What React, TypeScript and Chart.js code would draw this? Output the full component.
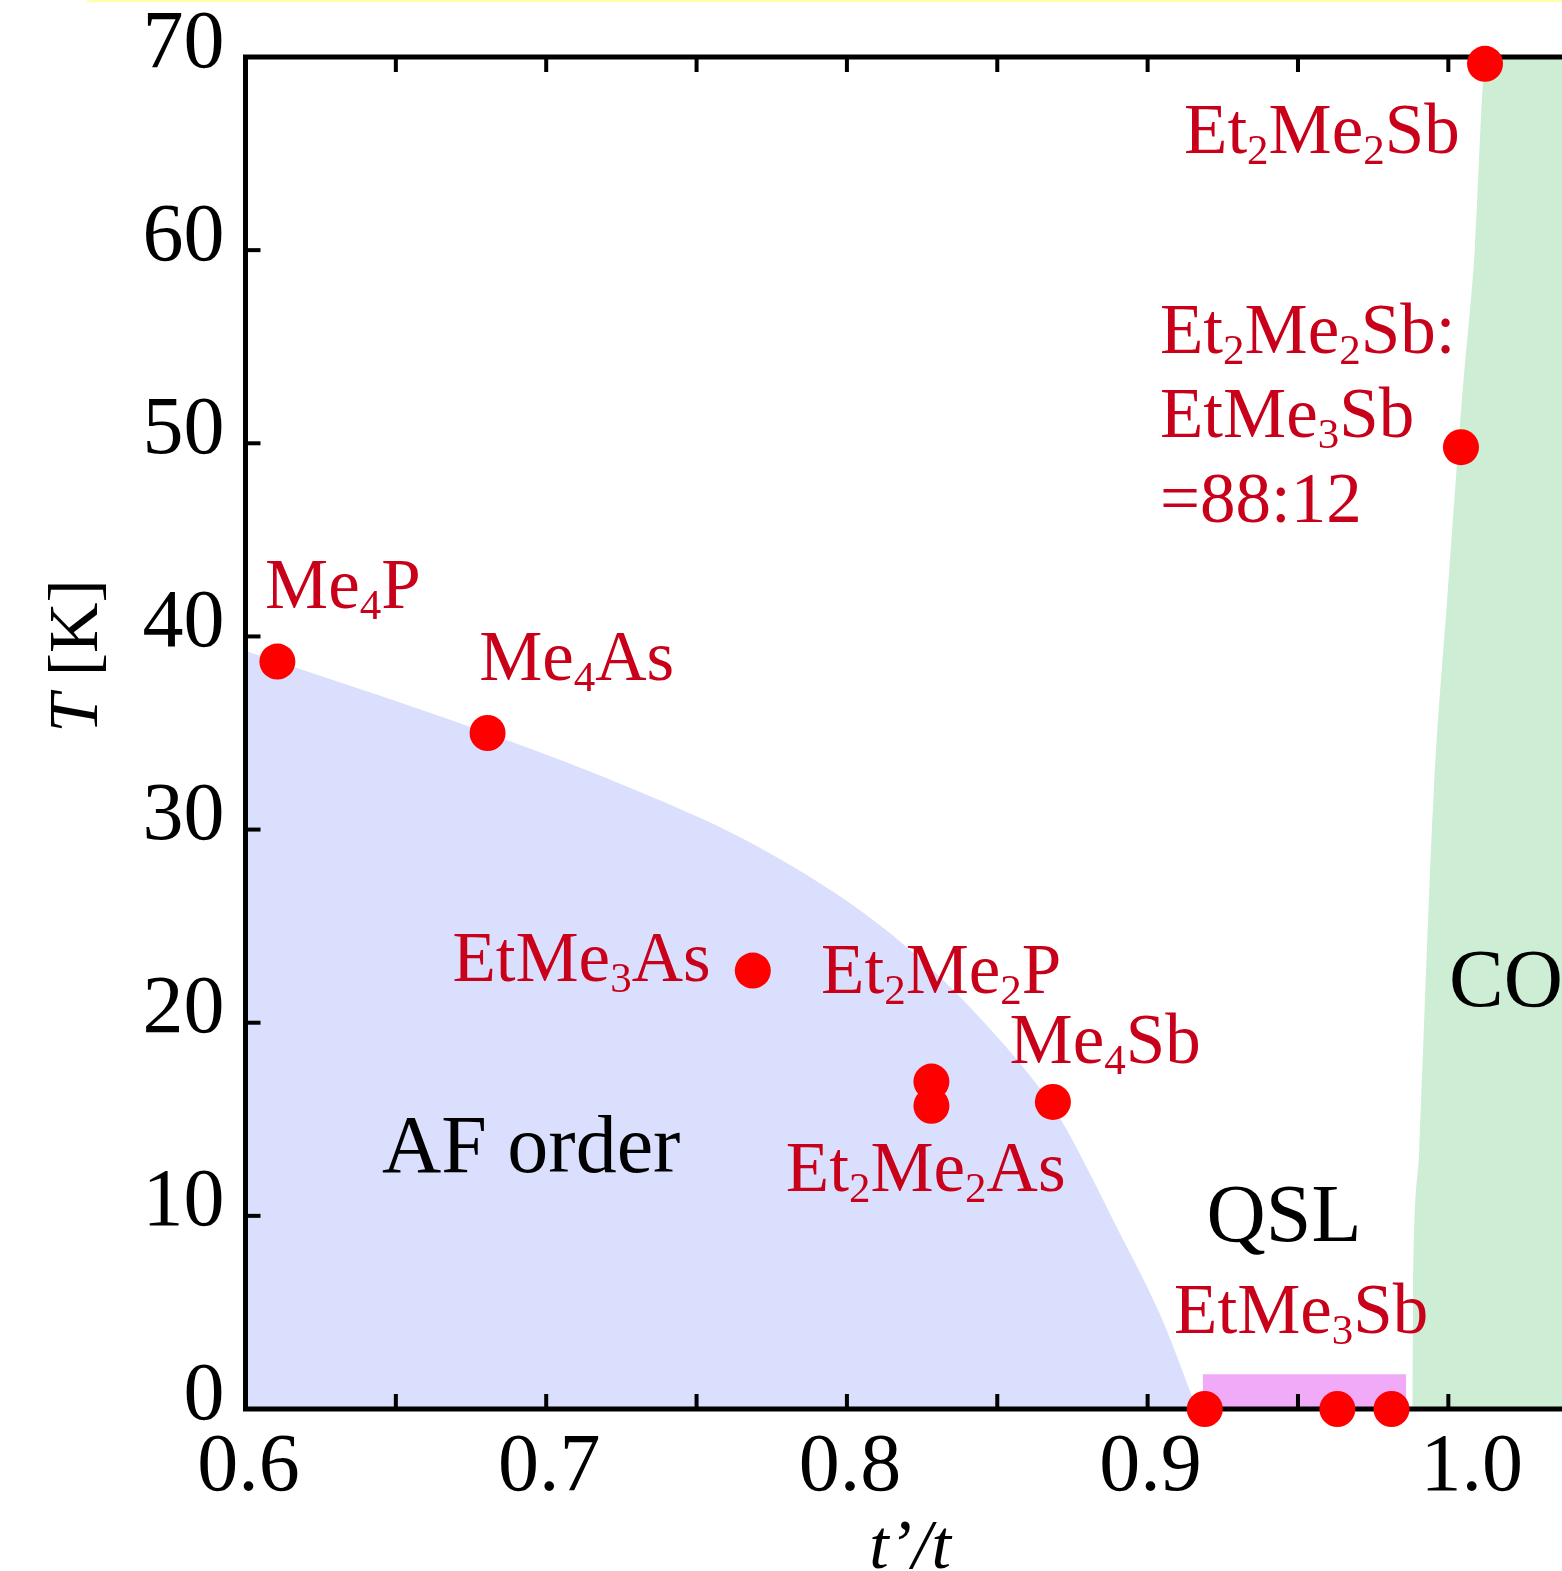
import React, { useEffect, useRef } from 'react';
import { Chart, registerables } from 'chart.js';

Chart.register(...registerables);

const W = 1562;
const H = 1571;
const SERIF = '"Liberation Serif", "Times New Roman", serif';
const RED_TEXT = '#c8001a';
const POINT_RED = '#ff0000';
const AF_COLOR = '#d9dffc';
const QSL_COLOR = '#f0aaf8';
const CO_COLOR = '#cdeed5';

// ---- data ----
const compoundNames = ['Me4P', 'Me4As', 'EtMe3As', 'Et2Me2P', 'Et2Me2As', 'Me4Sb', 'EtMe3Sb', 'EtMe3Sb', 'EtMe3Sb', 'Et2Me2Sb:EtMe3Sb=88:12', 'Et2Me2Sb'];
const tRatio = [0.6106, 0.6805, 0.7687, 0.8281, 0.8281, 0.8685, 0.919, 0.9631, 0.9811, 1.0042, 1.0122];
const transitionT = [38.7, 35.0, 22.7, 16.95, 15.7, 15.9, 0, 0, 0, 49.8, 69.65];

const afBoundaryX = [0.6, 0.6106, 0.6805, 0.7312, 0.7645, 0.8, 0.82, 0.8366, 0.8642, 0.8711, 0.8901, 0.9041, 0.9164];
const afBoundaryT = [39.25, 38.7, 35.0, 31.95, 29.6, 26.3, 23.9, 21.5, 16.6, 15.0, 9.3, 4.9, 0];

const qslX = [0.9183, 0.9183, 0.986, 0.986];
const qslT = [0, 1.8, 1.8, 0];

const coBoundaryX = [0.988, 0.9883, 0.9903, 0.995, 0.9996, 1.0045, 1.0088, 1.0125, 1.06];
const coBoundaryT = [0, 5.64, 13.4, 31.53, 41.9, 52.24, 60.0, 70, 70];

const xTickValues = [0.6, 0.7, 0.8, 0.9, 1.0];
const xTickLabels = ['0.6', '0.7', '0.8', '0.9', '\u20021.0'];
const yTickValues = [0, 10, 20, 30, 40, 50, 60, 70];
const yTickLabels = ['0', '10', '20', '30', '40', '50', '60', '70'];

const X_MIN = 0.6;
const X_MAX = 1.0378;
const Y_MIN = 0;
const Y_MAX = 70;

// ---- annotation layout (anchored in data coordinates: left edge, baseline) ----
const redLabels = [
  { text: 'Me_4P', x: 0.6065, t: 41.47 },
  { text: 'Me_4As', x: 0.6777, t: 37.74 },
  { text: 'EtMe_3As', x: 0.6688, t: 22.16 },
  { text: 'Et_2Me_2P', x: 0.7914, t: 21.54 },
  { text: 'Me_4Sb', x: 0.8541, t: 17.91 },
  { text: 'Et_2Me_2As', x: 0.7797, t: 11.29 },
  { text: 'EtMe_3Sb', x: 0.9088, t: 3.93 },
  { text: 'Et_2Me_2Sb', x: 0.9121, t: 65.03 },
  { text: 'Et_2Me_2Sb:', x: 0.9041, t: 54.68 },
  { text: 'EtMe_3Sb', x: 0.9041, t: 50.33 },
  { text: '=88:12', x: 0.9041, t: 45.93 },
];
const phaseLabels = [
  { text: 'AF order', x: 0.6454, t: 12.27 },
  { text: 'QSL', x: 0.9196, t: 8.7 },
  { text: 'CO', x: 1.0002, t: 20.87 },
];

const RED_SIZE = 71;
const PHASE_SIZE = 82;
const TICK_SIZE = 82;
const TITLE_SIZE = 70;

function drawRich(ctx: CanvasRenderingContext2D, text: string, x: number, y: number, size: number, color: string) {
  const sub = Math.round(size * 0.6);
  const drop = size * 0.155;
  ctx.fillStyle = color;
  ctx.textBaseline = 'alphabetic';
  ctx.textAlign = 'left';
  let cx = x;
  let i = 0;
  while (i < text.length) {
    if (text[i] === '_' && i + 1 < text.length) {
      ctx.font = `${sub}px ${SERIF}`;
      const s = text[i + 1];
      ctx.fillText(s, cx, y + drop);
      cx += ctx.measureText(s).width;
      i += 2;
    } else {
      let j = i;
      while (j < text.length && text[j] !== '_') j++;
      const s = text.slice(i, j);
      ctx.font = `${size}px ${SERIF}`;
      ctx.fillText(s, cx, y);
      cx += ctx.measureText(s).width;
      i = j;
    }
  }
}

const POINTS_INDEX = 3;

const framePlugin = {
  id: 'phaseFrame',
  beforeDatasetDraw(chart: any, args: any) {
    if (args.index !== POINTS_INDEX) return;
    const { ctx, chartArea } = chart;
    const { left, top, bottom } = chartArea;
    const xs = chart.scales.x;
    const ys = chart.scales.y;
    ctx.save();
    ctx.strokeStyle = '#000';
    ctx.lineWidth = 5;
    ctx.lineJoin = 'miter';
    ctx.beginPath();
    ctx.moveTo(W + 10, top);
    ctx.lineTo(left, top);
    ctx.lineTo(left, bottom);
    ctx.lineTo(W + 10, bottom);
    ctx.stroke();
    ctx.lineWidth = 4;
    const TL = 15;
    xs.ticks.forEach((tk: any) => {
      const v = tk.value;
      if (Math.abs(v / 0.05 - Math.round(v / 0.05)) > 1e-6) return;
      const px = xs.getPixelForValue(v);
      ctx.beginPath();
      ctx.moveTo(px, bottom);
      ctx.lineTo(px, bottom - TL);
      ctx.moveTo(px, top);
      ctx.lineTo(px, top + TL);
      ctx.stroke();
    });
    ys.ticks.forEach((tk: any) => {
      const py = ys.getPixelForValue(tk.value);
      ctx.beginPath();
      ctx.moveTo(left, py);
      ctx.lineTo(left + TL, py);
      ctx.stroke();
    });
    ctx.restore();
  },
  afterDraw(chart: any) {
    const { ctx } = chart;
    const xs = chart.scales.x;
    const ys = chart.scales.y;
    ctx.save();
    // thin yellow line at the very top
    ctx.fillStyle = '#ffffa8';
    ctx.fillRect(87, 0, W - 87, 2);

    redLabels.forEach((l) => {
      drawRich(ctx, l.text, xs.getPixelForValue(l.x), ys.getPixelForValue(l.t), RED_SIZE, RED_TEXT);
    });
    phaseLabels.forEach((l) => {
      drawRich(ctx, l.text, xs.getPixelForValue(l.x), ys.getPixelForValue(l.t), PHASE_SIZE, '#000');
    });

    // y axis title: "T [K]" rotated
    ctx.fillStyle = '#000';
    ctx.textBaseline = 'alphabetic';
    ctx.textAlign = 'left';
    ctx.save();
    ctx.translate(97, 656);
    ctx.rotate(-Math.PI / 2);
    ctx.font = `italic ${TITLE_SIZE}px ${SERIF}`;
    const wT = ctx.measureText('T').width;
    ctx.font = `${TITLE_SIZE}px ${SERIF}`;
    const wK = ctx.measureText(' [K]').width;
    const start = -(wT + wK) / 2;
    ctx.font = `italic ${TITLE_SIZE}px ${SERIF}`;
    ctx.fillText('T', start, 0);
    ctx.font = `${TITLE_SIZE}px ${SERIF}`;
    ctx.fillText(' [K]', start + wT, 0);
    ctx.restore();

    // x axis title
    ctx.font = `italic ${TITLE_SIZE}px ${SERIF}`;
    ctx.textAlign = 'center';
    ctx.fillText('t\u2019/t', 910, 1568);
    ctx.restore();
  },
};

function zeroPadding(s: any) {
  s.paddingTop = 0;
  s.paddingBottom = 0;
  s.paddingLeft = 0;
  s.paddingRight = 0;
}

export default function App() {
  const ref = useRef<HTMLCanvasElement | null>(null);

  useEffect(() => {
    if (!ref.current) return;
    const afData = afBoundaryX.map((x, i) => ({ x, y: afBoundaryT[i] }));
    const qslData = qslX.map((x, i) => ({ x, y: qslT[i] }));
    const coData = coBoundaryX.map((x, i) => ({ x, y: coBoundaryT[i] }));
    const pts = tRatio.map((x, i) => ({ x, y: transitionT[i], name: compoundNames[i] }));

    const chart = new Chart(ref.current, {
      type: 'scatter',
      data: {
        datasets: [
          {
            type: 'line', data: afData, fill: 'origin', backgroundColor: AF_COLOR,
            borderColor: 'rgba(0,0,0,0)', borderWidth: 0, pointRadius: 0,
            cubicInterpolationMode: 'monotone', order: 3,
          } as any,
          {
            type: 'line', data: qslData, fill: 'origin', backgroundColor: QSL_COLOR,
            borderColor: 'rgba(0,0,0,0)', borderWidth: 0, pointRadius: 0, tension: 0, order: 2,
          } as any,
          {
            type: 'line', data: coData, fill: 'origin', backgroundColor: CO_COLOR,
            borderColor: 'rgba(0,0,0,0)', borderWidth: 0, pointRadius: 0,
            cubicInterpolationMode: 'monotone', order: 1,
          } as any,
          {
            type: 'scatter', data: pts, pointRadius: 18, pointHoverRadius: 18,
            backgroundColor: POINT_RED, pointBackgroundColor: POINT_RED, pointBorderWidth: 0,
            borderWidth: 0, clip: false, order: 0,
          } as any,
        ],
      },
      options: {
        responsive: false,
        animation: false,
        devicePixelRatio: 1,
        events: [],
        layout: { autoPadding: false, padding: { top: 57, left: 0, right: 0, bottom: 0 } },
        plugins: { legend: { display: false }, tooltip: { enabled: false } },
        scales: {
          x: {
            type: 'linear', min: X_MIN, max: X_MAX,
            afterFit: (s: any) => { s.height = 162; zeroPadding(s); },
            grid: { display: false, drawTicks: false },
            border: { display: false },
            ticks: {
              stepSize: 0.05, includeBounds: false, autoSkip: false, maxRotation: 0, minRotation: 0,
              padding: 10, labelOffset: 3,
              color: '#000', font: { family: SERIF, size: TICK_SIZE },
              callback: (v: any) => {
                const k = xTickValues.findIndex((t) => Math.abs(t - Number(v)) < 1e-6);
                return k >= 0 ? xTickLabels[k] : '';
              },
            },
          },
          y: {
            type: 'linear', min: Y_MIN, max: Y_MAX,
            afterFit: (s: any) => { s.width = 245.5; zeroPadding(s); },
            grid: { display: false, drawTicks: false },
            border: { display: false },
            ticks: {
              stepSize: 10, padding: 21, labelOffset: -12,
              color: '#000', font: { family: SERIF, size: TICK_SIZE },
              callback: (v: any) => {
                const k = yTickValues.findIndex((t) => Math.abs(t - Number(v)) < 1e-6);
                return k >= 0 ? yTickLabels[k] : '';
              },
            },
          },
        } as any,
      },
      plugins: [framePlugin as any],
    });
    return () => chart.destroy();
  }, []);

  return (
    <div style={{ position: 'absolute', left: 0, top: 0, width: W, height: H, overflow: 'hidden', background: '#fff' }}>
      <canvas ref={ref} width={W} height={H} style={{ display: 'block', width: W, height: H }} />
    </div>
  );
}
